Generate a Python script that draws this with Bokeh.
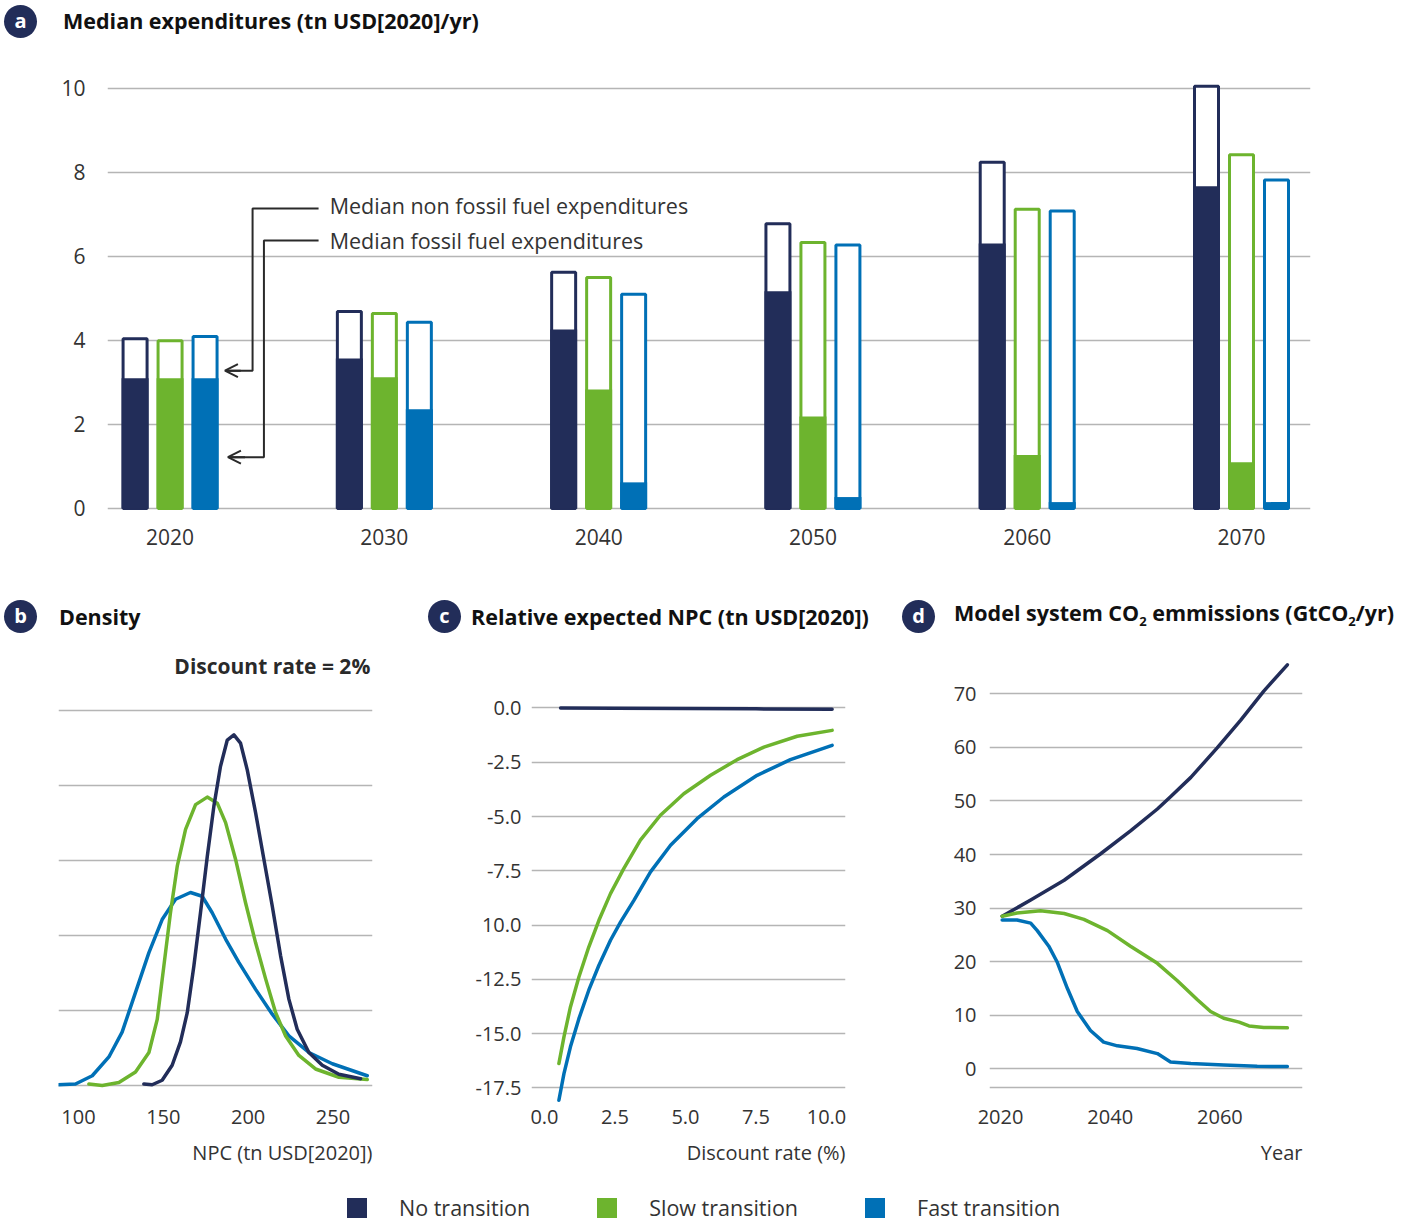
from bokeh.plotting import figure
from bokeh.models import (Range1d, FixedTicker, Label, Arrow, OpenHead, Legend,
                          LegendItem, Div, ColumnDataSource, Title)
from bokeh.layouts import column, row
from bokeh.transform import dodge
from bokeh.embed import file_html
from bokeh.resources import INLINE

# ------------------------------------------------------------------ data
# panel a : median expenditures (tn USD[2020]/yr)
years = [2020, 2030, 2040, 2050, 2060, 2070]
no_total = [4.04, 4.69, 5.62, 6.78, 8.24, 10.05]
no_fossil = [3.10, 3.57, 4.26, 5.17, 6.31, 7.67]
slow_total = [3.99, 4.64, 5.50, 6.33, 7.12, 8.42]
slow_fossil = [3.10, 3.12, 2.83, 2.19, 1.27, 1.10]
fast_total = [4.09, 4.43, 5.10, 6.27, 7.08, 7.82]
fast_fossil = [3.10, 2.36, 0.62, 0.27, 0.15, 0.15]
a_yticks = [0, 2, 4, 6, 8, 10]

# panel b : density of NPC (discount rate 2%)
npc_no = [138.5, 143.4, 149.3, 155.2, 160.1, 164.1, 168.0, 171.9, 175.9, 179.8, 183.7,
          187.7, 191.6, 195.5, 199.5, 204.4, 209.3, 214.2, 219.1, 224.0, 228.9, 235.8,
          243.7, 253.5, 266.3]
dens_no = [0.02, 0.01, 0.07, 0.27, 0.58, 0.97, 1.59, 2.30, 3.05, 3.72, 4.25,
           4.60, 4.67, 4.56, 4.20, 3.63, 3.01, 2.39, 1.73, 1.15, 0.75, 0.44,
           0.27, 0.15, 0.09]
npc_slow = [106.1, 114.0, 123.8, 133.6, 141.5, 146.4, 150.3, 154.2, 158.2, 163.1, 169.0,
            175.9, 181.8, 186.7, 192.6, 198.5, 204.4, 210.3, 216.2, 222.1, 229.9, 239.7,
            253.5, 270.2]
dens_slow = [0.02, 0.00, 0.04, 0.18, 0.44, 0.88, 1.59, 2.30, 2.92, 3.41, 3.74,
             3.84, 3.76, 3.50, 3.01, 2.43, 1.90, 1.42, 0.97, 0.66, 0.40, 0.22,
             0.11, 0.08]
npc_fast = [87.4, 98.2, 108.1, 117.9, 125.7, 133.6, 141.5, 149.3, 157.2, 166.0, 172.9,
            178.8, 186.7, 194.5, 204.4, 214.2, 224.0, 235.8, 249.6, 270.2]
dens_fast = [0.01, 0.02, 0.13, 0.38, 0.71, 1.24, 1.77, 2.21, 2.48, 2.57, 2.52,
             2.30, 1.95, 1.64, 1.28, 0.95, 0.66, 0.44, 0.29, 0.13]
b_xticks = [100, 150, 200, 250]
b_grid = [0, 1, 2, 3, 4, 5]

# panel c : relative expected NPC vs discount rate
rate_no = [0.57, 2.5, 5.0, 7.5, 10.2]
rel_no = [0.0, -0.01, -0.02, -0.04, -0.06]
rate_slow = [0.51, 0.69, 0.92, 1.22, 1.57, 1.93, 2.34, 2.81, 3.40, 4.11, 4.94, 5.89,
             6.83, 7.78, 8.96, 10.20]
rel_slow = [-16.38, -15.15, -13.77, -12.39, -11.01, -9.78, -8.55, -7.40, -6.09, -4.94,
            -3.95, -3.10, -2.38, -1.80, -1.30, -1.03]
rate_fast = [0.51, 0.69, 0.92, 1.22, 1.57, 1.93, 2.34, 2.70, 3.17, 3.76, 4.47, 5.41,
             6.36, 7.54, 8.72, 10.20]
rel_fast = [-18.07, -16.84, -15.61, -14.31, -13.00, -11.85, -10.70, -9.85, -8.86, -7.55,
            -6.32, -5.10, -4.10, -3.10, -2.38, -1.72]
c_yticks = [0.0, -2.5, -5.0, -7.5, -10.0, -12.5, -15.0, -17.5]
c_ylabels = ["0.0", "-2.5", "-5.0", "-7.5", "10.0", "-12.5", "-15.0", "-17.5"]
c_xticks = [0.0, 2.5, 5.0, 7.5, 10.0]
c_xlabels = ["0.0", "2.5", "5.0", "7.5", "10.0"]

# panel d : model system CO2 emissions (GtCO2/yr)
yr_no = [2020.3, 2025.5, 2031.6, 2038.2, 2043.7, 2048.6, 2051.0, 2054.7, 2059.5,
         2063.8, 2068.0, 2072.3]
co2_no = [28.5, 31.5, 35.2, 40.1, 44.4, 48.5, 50.8, 54.4, 59.9, 65.1, 70.5, 75.4]
yr_slow = [2020.3, 2023.0, 2027.3, 2031.6, 2035.2, 2039.5, 2043.7, 2048.6, 2052.2,
           2055.9, 2058.3, 2060.7, 2063.5, 2065.3, 2068.0, 2072.3]
co2_slow = [28.5, 29.1, 29.5, 29.0, 27.9, 25.8, 22.9, 19.7, 16.5, 12.9, 10.7, 9.45,
            8.73, 8.02, 7.73, 7.66]
yr_fast = [2020.3, 2023.0, 2025.5, 2026.7, 2028.8, 2030.3, 2032.2, 2034.0, 2036.4,
           2038.8, 2041.3, 2044.9, 2048.6, 2051.0, 2054.7, 2060.7, 2066.8, 2072.3]
co2_fast = [27.8, 27.8, 27.2, 25.8, 22.9, 20.0, 15.0, 10.7, 7.16, 5.0, 4.3, 3.8, 2.86,
            1.29, 1.0, 0.72, 0.5, 0.43]
d_yticks = [0, 10, 20, 30, 40, 50, 60, 70]
d_grid = [-3.56, 0, 10, 20, 30, 40, 50, 60, 70]
d_xticks = [2020, 2040, 2060]

scenarios = ["No transition", "Slow transition", "Fast transition"]

# ------------------------------------------------------------------ style
NAVY = "#222d59"
GREEN = "#6db42e"
BLUE = "#0070b6"
COLORS = [NAVY, GREEN, BLUE]
GRID = "#b5b5b5"
TXT = "#333333"
FONT = "Open Sans"


def base_fig(w, h, xr, yr, bl, br, bt, bb):
    p = figure(width=w, height=h, x_range=Range1d(*xr), y_range=Range1d(*yr),
               output_backend="svg", toolbar_location=None,
               min_border_left=bl, min_border_right=br,
               min_border_top=bt, min_border_bottom=bb)
    p.outline_line_color = None
    p.background_fill_color = "white"
    p.border_fill_color = "white"
    p.xgrid.visible = False
    p.ygrid.grid_line_color = GRID
    p.ygrid.grid_line_width = 1.5
    for ax in p.axis:
        ax.axis_line_color = None
        ax.major_tick_line_color = None
        ax.minor_tick_line_color = None
        ax.major_tick_out = 0
        ax.major_tick_in = 0
        ax.major_label_text_font = FONT
        ax.major_label_text_color = TXT
        ax.major_label_text_font_size = "20px"
    return p


def axis_title(p, text, standoff):
    p.add_layout(Title(text=text, align="right", text_font=FONT, text_font_size="20px",
                       text_font_style="normal", text_color=TXT, standoff=standoff),
                 "below")


# ------------------------------------------------------------------ panel a
pa = base_fig(1408, 523, (2017.08, 2073.22), (-0.05, 10.307), 107, 98, 20, 68)
src = ColumnDataSource(dict(year=years, no_total=no_total, no_fossil=no_fossil,
                            slow_total=slow_total, slow_fossil=slow_fossil,
                            fast_total=fast_total, fast_fossil=fast_fossil))
for off, key, col in zip([-1.633, 0.0, 1.633], ["no", "slow", "fast"], COLORS):
    pa.vbar(x=dodge("year", off), top=key + "_total", bottom=0, width=1.12,
            source=src, fill_color="white", line_color=col, line_width=3)
    pa.vbar(x=dodge("year", off), top=key + "_fossil", bottom=0, width=1.26,
            source=src, fill_color=col, line_color=None)
pa.xaxis.ticker = FixedTicker(ticks=years)
pa.yaxis.ticker = FixedTicker(ticks=a_yticks)
pa.ygrid.ticker = FixedTicker(ticks=a_yticks)
pa.xaxis.major_label_standoff = 18
pa.yaxis.major_label_standoff = 22
pa.xaxis.major_label_text_font_size = "21px"
pa.yaxis.major_label_text_font_size = "21px"

ANN = "#2a2a2a"
pa.line(x=[2026.93, 2023.85, 2023.85, 2022.62], y=[7.14, 7.14, 3.28, 3.28],
        line_color=ANN, line_width=2)
pa.line(x=[2026.93, 2024.38, 2024.38, 2022.76], y=[6.38, 6.38, 1.22, 1.22],
        line_color=ANN, line_width=2)
pa.add_layout(Arrow(end=OpenHead(size=13, line_color=ANN, line_width=2),
                    x_start=2023.3, y_start=3.28, x_end=2022.56, y_end=3.28,
                    line_color=ANN, line_width=2))
pa.add_layout(Arrow(end=OpenHead(size=13, line_color=ANN, line_width=2),
                    x_start=2023.5, y_start=1.22, x_end=2022.70, y_end=1.22,
                    line_color=ANN, line_width=2))
pa.add_layout(Label(x=2027.45, y=7.21, text="Median non fossil fuel expenditures",
                    text_baseline="middle", text_font=FONT, text_font_size="21.5px",
                    text_color=TXT))
pa.add_layout(Label(x=2027.45, y=6.38, text="Median fossil fuel expenditures",
                    text_baseline="middle", text_font=FONT, text_font_size="21.5px",
                    text_color=TXT))

# bottom row: all frames span page y 645..1104 (row starts at y=638)
BT, BB = 7, 84

# ------------------------------------------------------------------ panel b
pb = base_fig(420, 550, (88.2, 273.3), (-0.253, 5.859), 58, 48, BT, BB)
pb.yaxis.visible = False
pb.ygrid.ticker = FixedTicker(ticks=b_grid)
pb.xaxis.ticker = FixedTicker(ticks=b_xticks)
pb.xaxis.major_label_standoff = 5
for xs, ys, col in [(npc_fast, dens_fast, BLUE), (npc_slow, dens_slow, GREEN),
                    (npc_no, dens_no, NAVY)]:
    pb.line(xs, ys, line_color=col, line_width=3.5, line_cap="round", line_join="round")
pb.add_layout(Label(x=272.0, y=5.58, text="Discount rate = 2%", text_align="right",
                    text_baseline="middle", text_font=FONT, text_font_style="bold",
                    text_font_size="21px", text_color="#2a2a2a"))
axis_title(pb, "NPC (tn USD[2020])", 20)

# ------------------------------------------------------------------ panel c
pc = base_fig(470, 550, (-0.461, 10.674), (-18.265, 2.879), 111, 45, BT, BB)
pc.yaxis.ticker = FixedTicker(ticks=c_yticks)
pc.ygrid.ticker = FixedTicker(ticks=c_yticks)
pc.xaxis.ticker = FixedTicker(ticks=c_xticks)
pc.yaxis.major_label_overrides = {t: s for t, s in zip(c_yticks, c_ylabels)}
pc.xaxis.major_label_overrides = {t: s for t, s in zip(c_xticks, c_xlabels)}
pc.xaxis.major_label_standoff = 5
pc.yaxis.major_label_standoff = 10
for xs, ys, col in [(rate_no, rel_no, NAVY), (rate_slow, rel_slow, GREEN),
                    (rate_fast, rel_fast, BLUE)]:
    pc.line(xs, ys, line_color=col, line_width=3.5, line_cap="round", line_join="round")
axis_title(pc, "Discount rate (%)", 20)

# ------------------------------------------------------------------ panel d
pd_ = base_fig(518, 550, (2017.99, 2075.06), (-6.643, 79.01), 99, 106, BT, BB)
pd_.yaxis.ticker = FixedTicker(ticks=d_yticks)
pd_.ygrid.ticker = FixedTicker(ticks=d_grid)
pd_.xaxis.ticker = FixedTicker(ticks=d_xticks)
pd_.xaxis.major_label_standoff = 5
pd_.yaxis.major_label_standoff = 13
for xs, ys, col in [(yr_no, co2_no, NAVY), (yr_slow, co2_slow, GREEN),
                    (yr_fast, co2_fast, BLUE)]:
    pd_.line(xs, ys, line_color=col, line_width=3.5, line_cap="round", line_join="round")
axis_title(pd_, "Year", 20)

# ------------------------------------------------------------------ legend strip
pl = figure(width=1408, height=34, x_range=Range1d(0, 1), y_range=Range1d(0, 1),
            output_backend="svg", toolbar_location=None, min_border_left=107,
            min_border_right=98, min_border_top=0, min_border_bottom=0)
pl.axis.visible = False
pl.grid.visible = False
pl.outline_line_color = None
items = []
for name, key, col in zip(scenarios, ["no", "slow", "fast"], COLORS):
    r = pl.vbar(x="year", top=key + "_fossil", width=1.0, source=src,
                fill_color=col, line_color=None, visible=False)
    items.append(LegendItem(label=name, renderers=[r], index=0))
leg = Legend(items=items, orientation="horizontal", location=(237, 0),
             glyph_width=25, glyph_height=25, label_standoff=30, spacing=64,
             padding=0, margin=0, border_line_color=None, background_fill_alpha=0,
             inactive_fill_alpha=0,
             label_text_font=FONT, label_text_font_size="21.5px", label_text_color=TXT)
pl.add_layout(leg)

# ------------------------------------------------------------------ headings


def badge(letter, left, top):
    return ('<div style="position:absolute;left:%dpx;top:%dpx;width:33px;height:33px;'
            'border-radius:50%%;background:%s;color:#fff;font-family:\'Open Sans\';'
            'font-weight:bold;font-size:20px;text-align:center;line-height:31px">%s</div>'
            % (left, top, NAVY, letter))


def heading(text, left, top):
    return ('<div style="position:absolute;left:%dpx;top:%dpx;white-space:nowrap;'
            'font-family:\'Open Sans\';font-weight:bold;font-size:21.5px;color:#111;'
            'line-height:26px">%s</div>' % (left, top, text))


head_a = Div(width=1408, height=55, margin=(0, 0, 0, 0),
             text='<div style="position:relative;width:1408px;height:55px">'
                  + badge("a", 4, 5) + heading("Median expenditures (tn USD[2020]/yr)", 63, 8)
                  + '</div>')
head_bcd = Div(width=1408, height=60, margin=(0, 0, 0, 0),
               text='<div style="position:relative;width:1408px;height:60px">'
                    + badge("b", 4, 22) + heading("Density", 59, 26)
                    + badge("c", 428, 22) + heading("Relative expected NPC (tn USD[2020])", 471, 26)
                    + badge("d", 902, 22)
                    + heading("Model system CO<sub style='font-size:13px'>2</sub> emmissions "
                              "(GtCO<sub style='font-size:13px'>2</sub>/yr)", 954, 22)
                    + '</div>')

layout = column(head_a, pa, head_bcd, row(pb, pc, pd_), pl)
open("out.html", "w").write(file_html(layout, INLINE))
